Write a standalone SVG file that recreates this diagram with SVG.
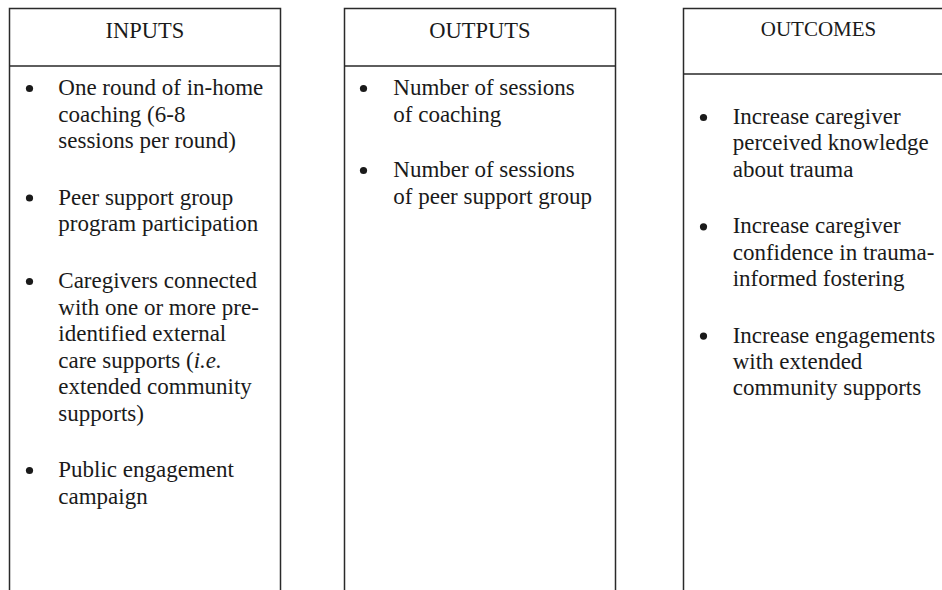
<svg xmlns="http://www.w3.org/2000/svg" width="942" height="590" viewBox="0 0 942 590">
<style>
.frame{fill:none;stroke:#2a2a2a;stroke-width:1.5}
.title{font-family:"Liberation Serif","Times New Roman",serif;font-size:22.5px;fill:#1a1a1a;text-anchor:middle}
.body{font-family:"Liberation Serif","Times New Roman",serif;font-size:23px;fill:#1a1a1a}
.bul{fill:#1a1a1a}
</style>
<rect width="942" height="590" fill="#ffffff"/>
<g id="inputs">
<path class="frame" d="M9.5,592 V8.5 H280.5 V592 M9.5,66 H280.5"/>
<text class="title" x="145" y="38.3">INPUTS</text>
<circle class="bul" cx="29.5" cy="88.5" r="3.6"/>
<text class="body" x="58.3" y="95">One round of in-home</text>
<text class="body" x="58.3" y="121.6">coaching (6-8</text>
<text class="body" x="58.3" y="148.2">sessions per round)</text>
<circle class="bul" cx="29.5" cy="198" r="3.6"/>
<text class="body" x="58.3" y="204.5">Peer support group</text>
<text class="body" x="58.3" y="231.1">program participation</text>
<circle class="bul" cx="29.5" cy="281.5" r="3.6"/>
<text class="body" x="58.3" y="288">Caregivers connected</text>
<text class="body" x="58.3" y="314.6">with one or more pre-</text>
<text class="body" x="58.3" y="341.2">identified external</text>
<text class="body" x="58.3" y="367.8">care supports (<tspan font-style="italic">i.e.</tspan></text>
<text class="body" x="58.3" y="394.4">extended community</text>
<text class="body" x="58.3" y="421">supports)</text>
<circle class="bul" cx="29.5" cy="470.5" r="3.6"/>
<text class="body" x="58.3" y="477">Public engagement</text>
<text class="body" x="58.3" y="503.6">campaign</text>
</g>
<g id="outputs">
<path class="frame" d="M344.5,592 V8.5 H615.5 V592 M344.5,66 H615.5"/>
<text class="title" x="480" y="38.3">OUTPUTS</text>
<circle class="bul" cx="363.5" cy="88.5" r="3.6"/>
<text class="body" x="393.3" y="95">Number of sessions</text>
<text class="body" x="393.3" y="121.6">of coaching</text>
<circle class="bul" cx="363.5" cy="170.5" r="3.6"/>
<text class="body" x="393.3" y="177">Number of sessions</text>
<text class="body" x="393.3" y="203.6">of peer support group</text>
</g>
<g id="outcomes">
<path class="frame" d="M683.5,592 V8.5 H960 M683.5,74 H960"/>
<text class="title" x="818.5" y="35.7" style="font-size:21px">OUTCOMES</text>
<circle class="bul" cx="703.5" cy="117.5" r="3.6"/>
<text class="body" x="732.7" y="124">Increase caregiver</text>
<text class="body" x="732.7" y="150.4">perceived knowledge</text>
<text class="body" x="732.7" y="176.8">about trauma</text>
<circle class="bul" cx="703.5" cy="226.8" r="3.6"/>
<text class="body" x="732.7" y="233.3">Increase caregiver</text>
<text class="body" x="732.7" y="259.7">confidence in trauma-</text>
<text class="body" x="732.7" y="286.1">informed fostering</text>
<circle class="bul" cx="703.5" cy="336.1" r="3.6"/>
<text class="body" x="732.7" y="342.6">Increase engagements</text>
<text class="body" x="732.7" y="369">with extended</text>
<text class="body" x="732.7" y="395.4">community supports</text>
</g>
<g id="connectors"/>
</svg>
